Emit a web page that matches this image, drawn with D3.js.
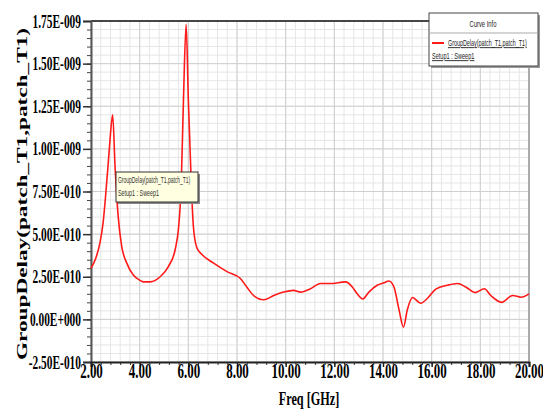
<!DOCTYPE html>
<html>
<head>
<meta charset="utf-8">
<script src="https://cdn.jsdelivr.net/npm/d3@7"></script>
<style>
  body { margin: 0; background: #fff; }
  .tick-lbl { font-family: "Liberation Serif", "Times New Roman", serif; font-weight: bold; }
  .small { font-family: "Liberation Sans", Arial, sans-serif; }
</style>
</head>
<body>
<div id="chart"></div>
<script>

// data (frequency in GHz, group delay in ns)
var freq = [2.00, 2.20, 2.37, 2.50, 2.58, 2.70, 2.78, 2.89, 2.99, 3.12, 3.26, 3.47, 3.74, 4.00,
  4.15, 4.43, 4.84, 5.18, 5.46, 5.60, 5.71, 5.80, 5.91, 6.00, 6.12, 6.21, 6.35, 6.56, 7.04,
  7.59, 8.14, 8.40, 8.68, 9.10, 9.51, 9.92, 10.33, 10.61, 11.02, 11.43, 11.84, 12.46, 12.74,
  12.94, 13.17, 13.42, 13.76, 14.05, 14.24, 14.45, 14.66, 14.84, 15.00, 15.21, 15.55, 15.83,
  16.17, 16.65, 17.06, 17.40, 17.79, 18.16, 18.43, 18.87, 19.33, 19.67, 20.00];
var delay = [0.30, 0.36, 0.45, 0.57, 0.69, 0.90, 1.05, 1.20, 0.89, 0.60, 0.43, 0.33, 0.26, 0.23,
  0.22, 0.22, 0.25, 0.31, 0.41, 0.54, 0.80, 1.29, 1.73, 1.29, 0.80, 0.54, 0.42, 0.38, 0.33,
  0.28, 0.24, 0.19, 0.14, 0.115, 0.14, 0.16, 0.17, 0.16, 0.18, 0.21, 0.21, 0.22, 0.19,
  0.15, 0.12, 0.16, 0.20, 0.215, 0.225, 0.19, 0.056, -0.046, 0.056, 0.128, 0.095, 0.124,
  0.177, 0.20, 0.21, 0.19, 0.157, 0.18, 0.14, 0.10, 0.14, 0.13, 0.15];

var xTicks = [2, 4, 6, 8, 10, 12, 14, 16, 18, 20];
var yTicks = [-0.25, 0, 0.25, 0.5, 0.75, 1.0, 1.25, 1.5, 1.75];

var xLabel = "Freq [GHz]";
var yLabel = "GroupDelay(patch_T1,patch_T1)";
var curveName = "GroupDelay(patch_T1,patch_T1)";
var sweepName = "Setup1 : Sweep1";

var svgWidth = 543;
var svgHeight = 410;
var plot = { left: 91, right: 529, top: 21, bottom: 362 };

var svg = d3.select("#chart")
  .append("svg")
  .attr("width", svgWidth)
  .attr("height", svgHeight);

var x = d3.scaleLinear().domain([2, 20]).range([plot.left, plot.right]);
var y = d3.scaleLinear().domain([-0.25, 1.75]).range([plot.bottom, plot.top]);

// value in ns -> "1.75E-009" style
function fmtE(v) {
  if (Math.abs(v) < 1e-12) return "0.00E+000";
  var e = Math.floor(Math.log10(Math.abs(v)) + 1e-9);
  var m = v / Math.pow(10, e);
  var exp = e - 9;
  return m.toFixed(2) + "E" + (exp < 0 ? "-" : "+") + String(Math.abs(exp)).padStart(3, "0");
}

// minor + major grid
var xMinor = d3.range(2, 20.001, 0.4);
var yMinor = d3.range(-0.25, 1.7501, 0.05);

svg.append("g").selectAll("line")
  .data(xMinor).enter().append("line")
  .attr("x1", d => x(d)).attr("x2", d => x(d))
  .attr("y1", plot.top).attr("y2", plot.bottom)
  .attr("stroke", "#e6e6e6").attr("stroke-width", 1);

svg.append("g").selectAll("line")
  .data(yMinor).enter().append("line")
  .attr("x1", plot.left).attr("x2", plot.right)
  .attr("y1", d => y(d)).attr("y2", d => y(d))
  .attr("stroke", "#e6e6e6").attr("stroke-width", 1);

svg.append("g").selectAll("line")
  .data(xTicks).enter().append("line")
  .attr("x1", d => x(d)).attr("x2", d => x(d))
  .attr("y1", plot.top).attr("y2", plot.bottom)
  .attr("stroke", "#cfcfcf").attr("stroke-width", 1);

svg.append("g").selectAll("line")
  .data(yTicks).enter().append("line")
  .attr("x1", plot.left).attr("x2", plot.right)
  .attr("y1", d => y(d)).attr("y2", d => y(d))
  .attr("stroke", "#cfcfcf").attr("stroke-width", 1);

// frame: black top, gray right
svg.append("line")
  .attr("x1", plot.left).attr("x2", plot.right)
  .attr("y1", plot.top).attr("y2", plot.top)
  .attr("stroke", "#111").attr("stroke-width", 1.5);
svg.append("line")
  .attr("x1", plot.right).attr("x2", plot.right)
  .attr("y1", plot.top).attr("y2", plot.bottom)
  .attr("stroke", "#999").attr("stroke-width", 1.5);

// axes
var minorLeft = d3.axisLeft(y).tickValues(yMinor).tickSize(4).tickFormat("");
svg.append("g").attr("transform", `translate(${plot.left},0)`).call(minorLeft)
  .call(g => g.select(".domain").remove())
  .selectAll("line").attr("stroke", "#444");

var leftAxis = d3.axisLeft(y).tickValues(yTicks).tickSize(8).tickPadding(3).tickFormat(fmtE);
var yAxisG = svg.append("g").attr("transform", `translate(${plot.left},0)`).call(leftAxis);
yAxisG.select(".domain").attr("stroke", "#555").attr("stroke-width", 2);
yAxisG.selectAll(".tick line").attr("stroke", "#333").attr("stroke-width", 1.5);
yAxisG.selectAll("text")
  .attr("class", "tick-lbl")
  .attr("font-size", 19)
  .attr("fill", "#000")
  .attr("x", 0)
  .attr("transform", "translate(-10,0) scale(0.6,1)");

var minorBottom = d3.axisBottom(x).tickValues(xMinor).tickSize(3).tickFormat("");
svg.append("g").attr("transform", `translate(0,${plot.bottom})`).call(minorBottom)
  .call(g => g.select(".domain").remove())
  .selectAll("line").attr("stroke", "#333");

var bottomAxis = d3.axisBottom(x).tickValues(xTicks).tickSize(5).tickFormat(d => d.toFixed(2));
var xAxisG = svg.append("g").attr("transform", `translate(0,${plot.bottom})`).call(bottomAxis);
xAxisG.select(".domain").attr("stroke", "#222").attr("stroke-width", 2);
xAxisG.selectAll(".tick line").attr("stroke", "#222").attr("stroke-width", 1.5);
xAxisG.selectAll("text")
  .attr("class", "tick-lbl")
  .attr("font-size", 20)
  .attr("fill", "#000")
  .attr("y", 0)
  .attr("dy", 0)
  .attr("transform", "translate(0,16) scale(0.65,1)");

// axis titles
svg.append("text")
  .attr("class", "tick-lbl")
  .attr("font-size", 18)
  .attr("text-anchor", "middle")
  .attr("transform", `translate(309,405) scale(0.68,1)`)
  .text(xLabel);

svg.append("text")
  .attr("class", "tick-lbl")
  .attr("font-size", 15)
  .attr("text-anchor", "middle")
  .attr("textLength", 332)
  .attr("lengthAdjust", "spacingAndGlyphs")
  .attr("transform", `translate(27,194) rotate(-90)`)
  .text(yLabel);

// curve
var pts = freq.map((f, i) => [f, delay[i]]);
var line = d3.line()
  .x(d => x(d[0]))
  .y(d => y(d[1]))
  .curve(d3.curveMonotoneX);

svg.append("path")
  .datum(pts)
  .attr("fill", "none")
  .attr("stroke", "#ff1a1a")
  .attr("stroke-width", 1.6)
  .attr("d", line);

// marker tooltip box
var tip = svg.append("g").attr("transform", "translate(116,172)");
tip.append("rect").attr("x", 2).attr("y", 2).attr("width", 82).attr("height", 30).attr("fill", "#888");
tip.append("rect").attr("width", 82).attr("height", 30)
  .attr("fill", "#ffffe1").attr("stroke", "#333").attr("stroke-width", 1);
tip.append("text").attr("class", "small").attr("font-size", 9)
  .attr("transform", "translate(2,11) scale(0.55,1)").attr("fill", "#333").text(curveName);
tip.append("text").attr("class", "small").attr("font-size", 9)
  .attr("transform", "translate(2,24) scale(0.6,1)").attr("fill", "#333").text(sweepName);

// legend box
var leg = svg.append("g").attr("transform", "translate(429,13)");
leg.append("rect").attr("x", 2).attr("y", 2).attr("width", 109).attr("height", 53).attr("fill", "#999");
leg.append("rect").attr("width", 109).attr("height", 53)
  .attr("fill", "#fff").attr("stroke", "#444").attr("stroke-width", 1);
leg.append("line").attr("x1", 0).attr("x2", 109).attr("y1", 20).attr("y2", 20)
  .attr("stroke", "#aaa");
leg.append("text").attr("class", "small").attr("font-size", 9)
  .attr("text-anchor", "middle")
  .attr("transform", "translate(54,14) scale(0.65,1)").attr("fill", "#222").text("Curve Info");
leg.append("line").attr("x1", 3).attr("x2", 15).attr("y1", 30).attr("y2", 30)
  .attr("stroke", "#ff1a1a").attr("stroke-width", 2);
leg.append("text").attr("class", "small").attr("font-size", 9)
  .attr("text-decoration", "underline")
  .attr("transform", "translate(19,33) scale(0.6,1)").attr("fill", "#222").text(curveName);
leg.append("text").attr("class", "small").attr("font-size", 9)
  .attr("text-decoration", "underline")
  .attr("transform", "translate(3,46) scale(0.62,1)").attr("fill", "#222").text(sweepName);

</script>
</body>
</html>
